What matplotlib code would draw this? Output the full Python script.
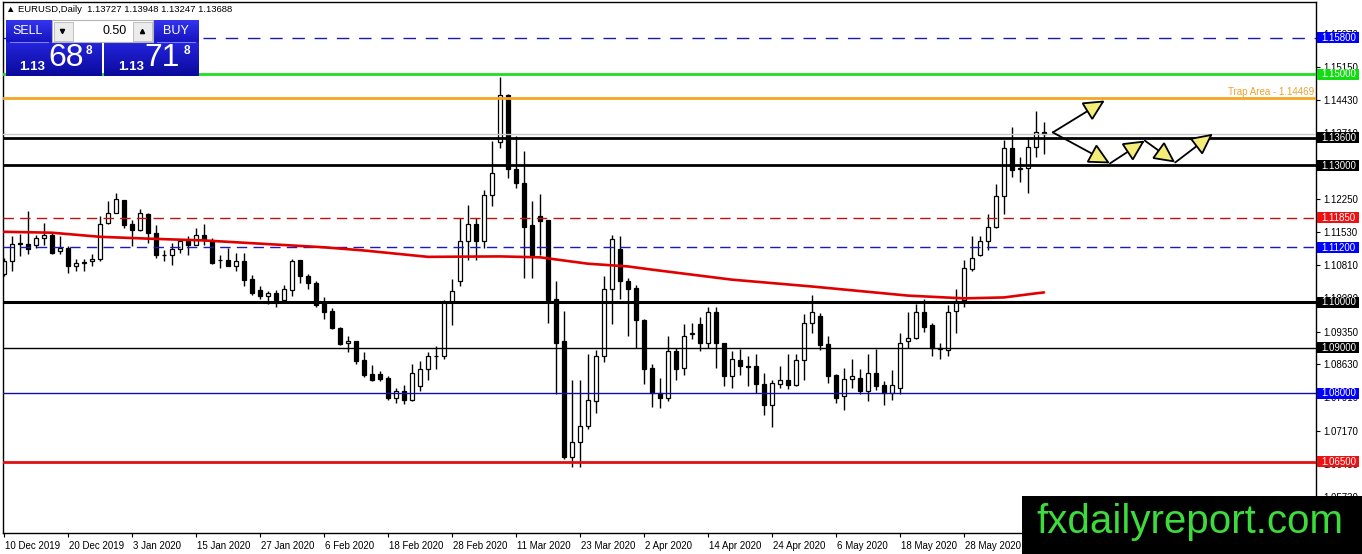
import matplotlib
matplotlib.use("Agg")
import matplotlib.pyplot as plt
import matplotlib.patches as mpatches
import matplotlib.transforms as mtransforms
from matplotlib.colors import LinearSegmentedColormap
import numpy as np

# ---------------- data ----------------
date_labels = ["10 Dec 2019", "20 Dec 2019", "3 Jan 2020", "15 Jan 2020", "27 Jan 2020",
               "6 Feb 2020", "18 Feb 2020", "28 Feb 2020", "11 Mar 2020", "23 Mar 2020",
               "2 Apr 2020", "14 Apr 2020", "24 Apr 2020", "6 May 2020", "18 May 2020",
               "28 May 2020"]
date_label_bars = [0, 8, 16, 24, 32, 40, 48, 56, 64, 72, 80, 88, 96, 104, 112, 120]

opens = [1.1062, 1.1091, 1.1130, 1.1128, 1.1126, 1.1141, 1.1148, 1.1111, 1.1119, 1.1078,
         1.1086, 1.1089, 1.1095, 1.1174, 1.1196, 1.1223, 1.1170, 1.1157, 1.1194, 1.1152,
         1.1104, 1.1104, 1.1117, 1.1133, 1.1124, 1.1148, 1.1137, 1.1093, 1.1093, 1.1078,
         1.1091, 1.1051, 1.1027, 1.1014, 1.1020, 1.1005, 1.1027, 1.1093, 1.1058, 1.1042,
         1.0998, 1.0981, 1.0944, 1.0909, 1.0914, 1.0872, 1.0841, 1.0841, 1.0834, 1.0790,
         1.0804, 1.0784, 1.0815, 1.0852, 1.0881, 1.0881, 1.1001, 1.1045, 1.1133, 1.1170,
         1.1133, 1.1234, 1.1350, 1.1453, 1.1291, 1.1260, 1.1168, 1.1188, 1.1179, 1.1007,
         1.0914, 1.0659, 1.0694, 1.0727, 1.0782, 1.0881, 1.1029, 1.1117, 1.1045, 1.1031,
         1.0960, 1.0856, 1.0801, 1.0790, 1.0892, 1.0856, 1.0929, 1.0951, 1.0911, 1.0979,
         1.0909, 1.0837, 1.0872, 1.0859, 1.0859, 1.0821, 1.0773, 1.0821, 1.0828, 1.0817,
         1.0872, 1.0953, 1.0970, 1.0907, 1.0839, 1.0793, 1.0832, 1.0834, 1.0804, 1.0845,
         1.0817, 1.0801, 1.0812, 1.0914, 1.0922, 1.0977, 1.0949, 1.0898, 1.0894, 1.0981,
         1.1005, 1.1073, 1.1102, 1.1133, 1.1165, 1.1232, 1.1337, 1.1291, 1.1293, 1.1339,
         1.13727]
highs = [1.1097, 1.1144, 1.1150, 1.1199, 1.1146, 1.1174, 1.1152, 1.1144, 1.1122, 1.1095,
         1.1095, 1.1106, 1.1188, 1.1221, 1.1238, 1.1223, 1.1179, 1.1205, 1.1196, 1.1168,
         1.1115, 1.1130, 1.1135, 1.1144, 1.1163, 1.1172, 1.1141, 1.1104, 1.1119, 1.1108,
         1.1108, 1.1060, 1.1036, 1.1025, 1.1027, 1.1038, 1.1095, 1.1093, 1.1062, 1.1047,
         1.1012, 1.0986, 1.0946, 1.0925, 1.0914, 1.0890, 1.0861, 1.0848, 1.0837, 1.0812,
         1.0817, 1.0863, 1.0870, 1.0890, 1.0903, 1.1005, 1.1051, 1.1185, 1.1212, 1.1185,
         1.1245, 1.1354, 1.1494, 1.1457, 1.1365, 1.1332, 1.1221, 1.1236, 1.1179, 1.1045,
         1.0981, 1.0830, 1.0828, 1.0887, 1.0894, 1.1058, 1.1146, 1.1144, 1.1053, 1.1038,
         1.0962, 1.0863, 1.0834, 1.0925, 1.0900, 1.0951, 1.0953, 1.0968, 1.0988, 1.0988,
         1.0911, 1.0892, 1.0896, 1.0881, 1.0885, 1.0845, 1.0828, 1.0859, 1.0887, 1.0885,
         1.0973, 1.1016, 1.0975, 1.0925, 1.0843, 1.0856, 1.0876, 1.0852, 1.0885, 1.0898,
         1.0826, 1.0850, 1.0931, 1.0977, 1.0996, 1.1007, 1.0953, 1.0911, 1.0994, 1.1029,
         1.1093, 1.1144, 1.1144, 1.1194, 1.1258, 1.1356, 1.1383, 1.1319, 1.1363, 1.1420,
         1.13948]
lows = [1.1056, 1.1067, 1.1100, 1.1106, 1.1119, 1.1126, 1.1106, 1.1106, 1.1064, 1.1067,
        1.1067, 1.1080, 1.1091, 1.1170, 1.1196, 1.1163, 1.1122, 1.1155, 1.1130, 1.1097,
        1.1091, 1.1082, 1.1108, 1.1102, 1.1124, 1.1124, 1.1084, 1.1075, 1.1078, 1.1067,
        1.1034, 1.1016, 1.1007, 1.0996, 1.0990, 1.1003, 1.1014, 1.1042, 1.1029, 1.0990,
        1.0962, 1.0940, 1.0905, 1.0890, 1.0865, 1.0835, 1.0826, 1.0826, 1.0786, 1.0779,
        1.0777, 1.0782, 1.0804, 1.0828, 1.0854, 1.0876, 1.0949, 1.1034, 1.1093, 1.1093,
        1.1119, 1.1210, 1.1337, 1.1273, 1.1251, 1.1053, 1.1053, 1.1104, 1.0955, 1.0799,
        1.0655, 1.0637, 1.0637, 1.0722, 1.0757, 1.0868, 1.0951, 1.1007, 1.0925, 1.0900,
        1.0821, 1.0770, 1.0768, 1.0782, 1.0828, 1.0839, 1.0918, 1.0892, 1.0900, 1.0856,
        1.0815, 1.0812, 1.0839, 1.0815, 1.0801, 1.0753, 1.0725, 1.0812, 1.0810, 1.0815,
        1.0830, 1.0931, 1.0894, 1.0823, 1.0779, 1.0764, 1.0812, 1.0799, 1.0782, 1.0808,
        1.0773, 1.0786, 1.0799, 1.0900, 1.0918, 1.0935, 1.0881, 1.0874, 1.0881, 1.0933,
        1.0990, 1.1067, 1.1100, 1.1113, 1.1163, 1.1194, 1.1275, 1.1264, 1.1240, 1.1319,
        1.13247]
closes = [1.1091, 1.1128, 1.1128, 1.1117, 1.1141, 1.1148, 1.1108, 1.1119, 1.1078, 1.1086,
          1.1087, 1.1095, 1.1172, 1.1196, 1.1227, 1.1168, 1.1157, 1.1196, 1.1152, 1.1102,
          1.1103, 1.1117, 1.1133, 1.1124, 1.1148, 1.1135, 1.1086, 1.1092, 1.1078, 1.1091,
          1.1049, 1.1020, 1.1014, 1.1020, 1.1005, 1.1029, 1.1091, 1.1058, 1.1042, 1.0994,
          1.0979, 1.0942, 1.0907, 1.0914, 1.0870, 1.0839, 1.0828, 1.0832, 1.0790, 1.0804,
          1.0784, 1.0845, 1.0852, 1.0881, 1.0882, 1.1001, 1.1025, 1.1133, 1.1170, 1.1133,
          1.1234, 1.1282, 1.1453, 1.1291, 1.1260, 1.1165, 1.1102, 1.1177, 1.1005, 1.0911,
          1.0659, 1.0694, 1.0727, 1.0786, 1.0881, 1.1029, 1.1139, 1.1045, 1.1029, 1.0960,
          1.0854, 1.0801, 1.0790, 1.0892, 1.0854, 1.0925, 1.0933, 1.0911, 1.0979, 1.0909,
          1.0837, 1.0874, 1.0859, 1.0858, 1.0821, 1.0773, 1.0823, 1.0828, 1.0819, 1.0872,
          1.0953, 1.0977, 1.0905, 1.0837, 1.0790, 1.0832, 1.0837, 1.0804, 1.0845, 1.0815,
          1.0801, 1.0817, 1.0911, 1.0922, 1.0977, 1.0946, 1.0900, 1.0899, 1.0979, 1.1003,
          1.1075, 1.1097, 1.1133, 1.1165, 1.1232, 1.1337, 1.1289, 1.1293, 1.1339, 1.1372,
          1.13688]

# moving average (read at sample bars)
ma_bars = [0, 6, 12, 18, 25, 40, 45, 53, 62, 67, 70, 73, 78, 81, 91, 101, 113, 120, 125, 129, 130]
ma_values = [1.1154, 1.1152, 1.1143, 1.1139, 1.1135, 1.1120, 1.1113, 1.1099, 1.1100, 1.1098,
             1.1091, 1.1084, 1.1078, 1.1071, 1.1049, 1.1034, 1.1014, 1.1008, 1.1010, 1.1019,
             1.1021]

# horizontal levels
level_prices = [1.158, 1.15, 1.14469, 1.13688, 1.136, 1.13, 1.1185, 1.112, 1.10, 1.09, 1.08, 1.065]
level_tags = ["1.15800", "1.15000", "", "", "1.13600", "1.13000", "1.11850", "1.11200",
              "1.10000", "1.09000", "1.08000", "1.06500"]
trap_text = "Trap Area - 1.14469"

# price axis ticks
price_ticks = [1.1587, 1.1515, 1.1443, 1.1371, 1.1299, 1.1225, 1.1153, 1.1081, 1.1009,
               1.0935, 1.0863, 1.0791, 1.0717, 1.0645, 1.0573]

# scenario arrows (bar position, price)
arrow_up = [(131.1, 1.1372), (137.6, 1.1442)]
arrow_zigzag = [(131.1, 1.1372), (138.25, 1.1304), (142.6, 1.1354), (146.4, 1.1306), (151.1, 1.1369)]

header_text = "\u25B2 EURUSD,Daily  1.13727 1.13948 1.13247 1.13688"
lot_text = "0.50"
sell_big, buy_big = "68", "71"
price_prefix, pip_frac = "1.13", "8"
watermark = "fxdailyreport.com"

# ---------------- styles ----------------
level_styles = [
    dict(color="#1a1ab4", lw=1.0, ls=(0, (9, 7)), box="#0000ff"),
    dict(color="#22dd22", lw=2.0, ls="-", box="#11dd11"),
    dict(color="#f5a623", lw=2.0, ls="-", box=None),
    dict(color="#c8c8c8", lw=1.0, ls="-", box=None),
    dict(color="#000000", lw=2.0, ls="-", box="#000000"),
    dict(color="#000000", lw=2.0, ls="-", box="#000000"),
    dict(color="#c01010", lw=1.0, ls=(0, (7.5, 4.5)), box="#ee1111"),
    dict(color="#1a1ab4", lw=1.0, ls=(0, (7.5, 4.5)), box="#0000ff"),
    dict(color="#000000", lw=2.2, ls="-", box="#000000"),
    dict(color="#000000", lw=1.0, ls="-", box="#000000"),
    dict(color="#1010a0", lw=1.0, ls="-", box="#0000ff"),
    dict(color="#e01010", lw=2.0, ls="-", box="#ee1111"),
]

W, H = 1362, 554
FONT = ["Liberation Sans", "DejaVu Sans"]
plt.rcParams["font.family"] = FONT

fig = plt.figure(figsize=(W / 100, H / 100), dpi=100)
fig.patch.set_facecolor("white")

# axes frame in pixels
ax_left, ax_right, ax_top, ax_bottom = 3, 1316, 2, 533
ax = fig.add_axes([ax_left / W, 1 - ax_bottom / H, (ax_right - ax_left) / W, (ax_bottom - ax_top) / H])

px_per_unit = 4559.0
ref_y, ref_p = 302.0, 1.1000
ymin = ref_p - (ax_bottom - ref_y) / px_per_unit
ymax = ref_p + (ref_y - ax_top) / px_per_unit
bar_px = 8.0
xmin = -1.0 / bar_px
xmax = xmin + (ax_right - ax_left) / bar_px
ax.set_xlim(xmin, xmax)
ax.set_ylim(ymin, ymax)

n = len(opens)
xs = np.arange(n)
o = np.array(opens); h = np.array(highs); l = np.array(lows); c = np.array(closes)

# wicks
ax.vlines(xs, l, h, color="black", lw=1.0, zorder=2)
# bodies
bull = c >= o
bottoms = np.minimum(o, c)
heights = np.maximum(np.abs(c - o), 0.00004)
ax.bar(xs[bull], heights[bull], bottom=bottoms[bull], width=0.62, color="white",
       edgecolor="black", linewidth=0.9, zorder=2.2)
ax.bar(xs[~bull], heights[~bull], bottom=bottoms[~bull], width=0.62, color="black",
       edgecolor="black", linewidth=0.9, zorder=2.2)

# horizontal levels
for p, st in zip(level_prices, level_styles):
    ax.axhline(p, color=st["color"], lw=st["lw"], ls=st["ls"], zorder=3)

# moving average
ax.plot(ma_bars, ma_values, color="#e00000", lw=1.9, zorder=4, solid_capstyle="round")

# trap area text
trans_blend = mtransforms.blended_transform_factory(ax.transAxes, ax.transData)
ax.text(0.9985, level_prices[2] + 0.00018, trap_text, transform=trans_blend, ha="right",
        va="bottom", fontsize=7, color="#f0a030", zorder=5)

# arrows
def draw_arrow(p0, p1):
    arr = mpatches.FancyArrowPatch(p0, p1, arrowstyle="-|>,head_length=1.1,head_width=0.55",
                                   mutation_scale=12, fc="#f4ee78", ec="black", lw=1.3,
                                   shrinkA=0, shrinkB=0, zorder=6, joinstyle="miter")
    ax.add_patch(arr)

draw_arrow(arrow_up[0], arrow_up[1])
for a, b in zip(arrow_zigzag[:-1], arrow_zigzag[1:]):
    draw_arrow(a, b)

# axes styling
for sp in ax.spines.values():
    sp.set_color("black")
    sp.set_linewidth(1.0)
ax.yaxis.tick_right()
ax.set_yticks(price_ticks)
ax.set_yticklabels(["{:.5f}".format(v) for v in price_ticks])
ax.tick_params(axis="y", direction="out", length=3, width=0.8, pad=2, labelsize=7)
ax.set_xticks(date_label_bars)
ax.set_xticklabels(date_labels)
ax.tick_params(axis="x", direction="out", length=3, width=0.8, pad=3, labelsize=7)
offset = mtransforms.ScaledTranslation(0.5 / 72, 0, fig.dpi_scale_trans)
for lab in ax.get_xticklabels():
    lab.set_horizontalalignment("left")
    lab.set_transform(lab.get_transform() + offset)

# ---------------- overlay (pixel coordinates) ----------------
ov = fig.add_axes([0, 0, 1, 1], zorder=5)
ov.set_facecolor("none")
ov.patch.set_alpha(0)
ov.axis("off")

def grad_rect(x, y, w, hgt, top, bot):
    cmap = LinearSegmentedColormap.from_list("g", [top, bot])
    g = np.linspace(0, 1, 40).reshape(-1, 1)
    ov.imshow(g, cmap=cmap, extent=(x, x + w, y + hgt, y), aspect="auto", zorder=1,
              interpolation="bilinear")

# price tag boxes on the right axis
fig.canvas.draw()
for p, tag, st in zip(level_prices, level_tags, level_styles):
    if not tag or st["box"] is None:
        continue
    ypx = H - ax.transData.transform((0, p))[1]
    ov.add_patch(mpatches.Rectangle((1317, ypx - 5.5), 42, 11, fc=st["box"], ec="none", zorder=3))
    ov.text(1338.5, ypx + 0.3, tag, color="white", fontsize=7, ha="center", va="center", zorder=4)

# header
ov.text(6, 10, header_text, fontsize=6.8, ha="left", va="center", color="black", zorder=4)

# trade panel
grad_rect(6, 20, 46, 22, "#3434ee", "#1414c0")
grad_rect(153, 20, 46, 22, "#3434ee", "#1414c0")
ov.add_patch(mpatches.Rectangle((52, 20), 101, 22, fc="white", ec="#b4b4b4", lw=0.8, zorder=2))
ov.add_patch(mpatches.Rectangle((53.5, 21.5), 19, 19, fc="#ececec", ec="#b8b8b8", lw=0.6, zorder=3))
ov.add_patch(mpatches.Rectangle((132.5, 21.5), 19, 19, fc="#ececec", ec="#b8b8b8", lw=0.6, zorder=3))
ov.plot([62], [30.5], marker="v", ms=3, color="black", zorder=4)
ov.plot([142], [30.5], marker="^", ms=3, color="black", zorder=4)
ov.text(127, 31, lot_text, fontsize=9, ha="right", va="center", color="black", zorder=4)
ov.text(28, 30.5, "SELL", fontsize=9, ha="center", va="center", color="white", zorder=4)
ov.text(176, 30.5, "BUY", fontsize=9, ha="center", va="center", color="white", zorder=4)
ov.plot([10, 48], [41.5, 41.5], color="#7c7cff", lw=0.8, zorder=4)
ov.plot([157, 195], [41.5, 41.5], color="#7c7cff", lw=0.8, zorder=4)
grad_rect(6, 42, 96, 34, "#2424dc", "#0a0a9c")
grad_rect(104, 42, 95, 34, "#2424dc", "#0a0a9c")
for (cx_small, cx_big, cx_frac, big) in [(32, 66, 89, sell_big), (131, 162, 187, buy_big)]:
    ov.text(cx_small, 66.5, price_prefix, fontsize=9.5, fontweight="bold", ha="center",
            va="center", color="white", zorder=4)
    ov.text(cx_big, 58.5, big, fontsize=23, ha="center", va="center", color="white", zorder=4)
    ov.text(cx_frac, 50.5, pip_frac, fontsize=8.5, fontweight="bold", ha="center",
            va="center", color="white", zorder=4)

# watermark
ov.add_patch(mpatches.Rectangle((1022, 496), 340, 58, fc="black", ec="none", zorder=5))
ov.text(1190, 522, watermark, fontsize=29, ha="center", va="center", color="#3ddc3d", zorder=6)

ov.set_xlim(0, W)
ov.set_ylim(H, 0)

fig.savefig("out.png", dpi=100)
